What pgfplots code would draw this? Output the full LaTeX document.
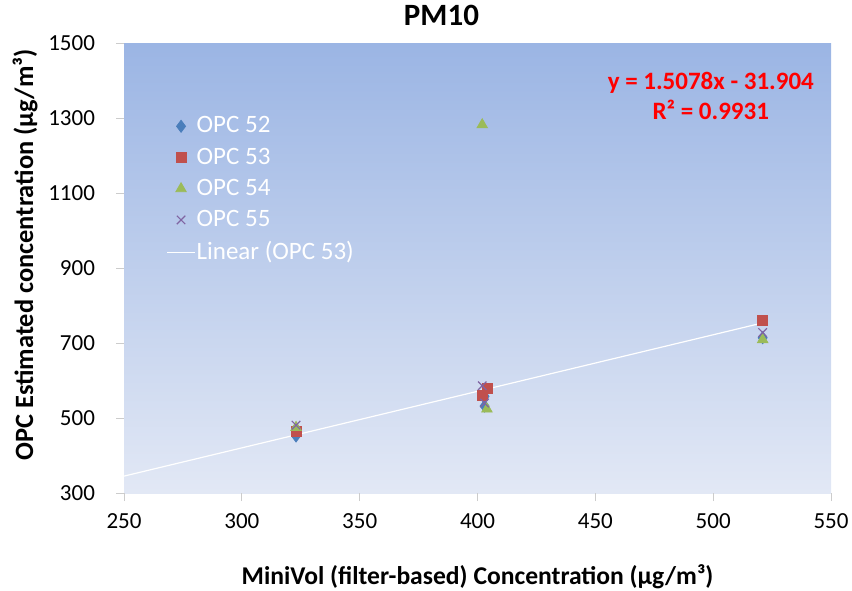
\documentclass[border=0pt]{standalone}
\usepackage{pgfplots}
\pgfplotsset{compat=1.18}
\usepackage{fontspec}
\setmainfont{Carlito}
\definecolor{sblue}{HTML}{4A7EBB}
\definecolor{sred}{HTML}{C0504D}
\definecolor{sgreen}{HTML}{9BBB59}
\definecolor{spurple}{HTML}{8064A2}
\definecolor{bgtop}{HTML}{9BB5E4}
\definecolor{bgbot}{HTML}{E2E8F5}
\begin{document}
\begin{tikzpicture}
\begin{axis}[
    scale only axis,
    width=353.5pt, height=225pt,
    xmin=250, xmax=550, ymin=300, ymax=1500,
    xtick={250,300,...,550},
    ytick={300,500,...,1500},
    xtick pos=bottom, ytick pos=left,
    /pgf/number format/assume math mode=true,
    /pgf/number format/1000 sep={},
    tick label style={font=\fontsize{11.5}{13}\selectfont},
    yticklabel style={xshift=-7pt},
    xticklabel style={yshift=-2.5pt},
    tick align=outside,
    major tick length=4pt,
    tick style={gray!40, line width=0.5pt},
    axis line style={draw=none},
    axis background/.style={shade, top color=bgtop, bottom color=bgbot},
    title={PM10},
    title style={font=\fontsize{15.5}{17}\selectfont\bfseries, at={(0.5,1)}, anchor=south, yshift=-1pt, xshift=-18pt},
    xlabel={MiniVol (filter-based) Concentration (µg/m³)},
    ylabel={OPC Estimated concentration (µg/m³)},
    xlabel style={font=\fontsize{12.8}{14}\selectfont\bfseries, at={(axis description cs:0.5,-0.187)}, anchor=center},
    ylabel style={font=\fontsize{13.2}{14}\selectfont\bfseries, at={(axis description cs:-0.14,0.529)}, anchor=center},
    legend style={draw=none, fill=none, at={(axis description cs:0.051,0.855)}, anchor=north west,
        font=\fontsize{12.5}{15}\selectfont\color{white}, row sep=2pt,
        /tikz/every odd column/.append style={column sep=-1.5pt}},
    legend cell align=left,
]
\addplot[only marks, mark=diamond*, mark size=3pt, color=sblue]
  coordinates {(323,452) (403,532) (403,558) (521,714)};
\addlegendentry{OPC 52}
\addplot[only marks, mark=square*, mark size=2.5pt, color=sred]
  coordinates {(323,465) (402,560) (404,578) (521,760)};
\addlegendentry{OPC 53}
\addplot[only marks, mark=triangle*, mark size=3pt, color=sgreen]
  coordinates {(323,475) (404,524) (402,1282) (521,709)};
\addlegendentry{OPC 54}
\addplot[only marks, mark=x, mark size=3pt, color=spurple, line width=0.6pt]
  coordinates {(323,481) (402,586) (403,540) (521,728)};
\addlegendentry{OPC 55}
% trendline of OPC 53: y = 1.5078x - 31.904
\addplot[white, line width=0.6pt,
    legend image code/.code={\draw[white, line width=0.6pt] (0.3cm-7pt,0cm) -- (0.3cm+7pt,0cm);}]
  coordinates {(250,345.05) (521,753.66)};
\addlegendentry{Linear (OPC 53)}
\node[text=red, font=\fontsize{12.5}{14}\selectfont\bfseries, align=center]
  at (axis description cs:0.83,0.882) {y = 1.5078x - 31.904\\[1pt]R² = 0.9931};
\coordinate (bbl) at (rel axis cs:-0.1754,-0.2156);
\coordinate (btr) at (rel axis cs:1.0297,1.0956);
\end{axis}
\pgfresetboundingbox
\path[use as bounding box] (bbl) rectangle (btr);
\end{tikzpicture}
\end{document}
